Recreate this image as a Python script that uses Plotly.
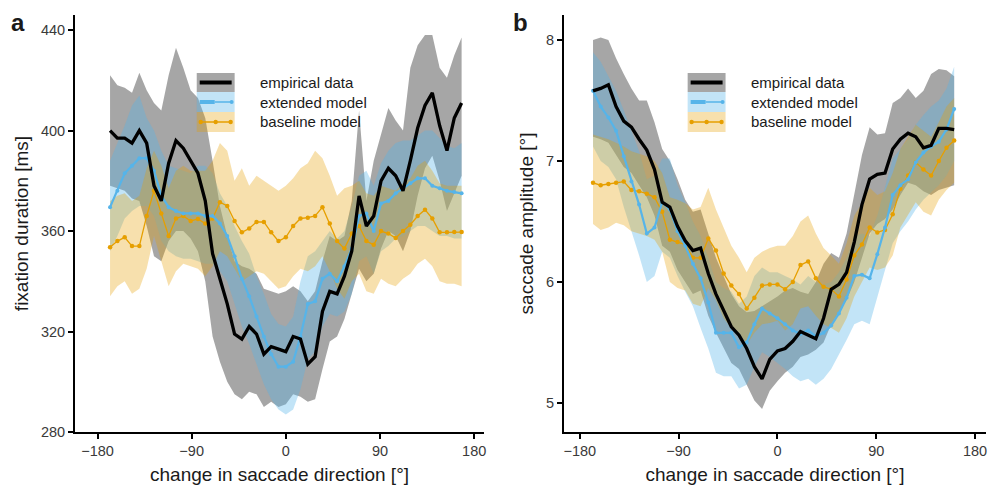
import plotly.graph_objects as go

# ---------------- data: panel a (fixation duration) ----------------
X_A = [-168, -161, -154, -147, -140, -133, -126, -119, -112, -105, -98, -91, -84, -77,
       -70, -63, -56, -49, -42, -35, -28, -21, -14, -7, 0, 7, 14, 21, 28, 35, 42, 49,
       56, 63, 70, 77, 84, 91, 98, 105, 112, 119, 126, 133, 140, 147, 154, 161, 168]

emp_a = [400, 397, 397, 395, 400, 395, 378, 372, 387, 396, 393, 388, 383, 372, 351, 341,
         331, 319, 317, 322, 319, 311, 314, 313, 312, 318, 317, 307, 310, 328, 336, 335,
         342, 352, 374, 362, 366, 380, 385, 382, 376, 388, 401, 410, 415, 402, 392, 405, 411]
emp_a_hi = [422, 418, 417, 415, 423, 416, 411, 408, 422, 433, 425, 416, 413, 405, 388, 370,
            358, 348, 346, 345, 343, 337, 336, 335, 336, 338, 336, 332, 336, 348, 358, 356,
            358, 372, 408, 372, 388, 398, 409, 404, 400, 425, 434, 438, 438, 425, 421, 430, 437]
emp_a_lo = [378, 377, 376, 373, 372, 362, 350, 348, 356, 360, 360, 357, 352, 340, 318, 308,
            300, 295, 293, 296, 295, 290, 292, 290, 291, 295, 294, 292, 293, 305, 316, 318,
            325, 335, 345, 340, 343, 353, 360, 358, 352, 360, 374, 385, 390, 380, 368, 375, 382]

ext_a = [369.5, 376, 383, 386, 389, 389, 384, 374, 369.5, 368, 367, 367, 367, 366, 366, 363,
         358, 350, 341, 334, 326, 318, 311, 306, 306, 308, 318, 331, 332, 341, 343, 340,
         346, 353, 366, 367, 360, 371, 372, 375, 377, 379, 381, 381, 378, 377, 376, 375.5, 375]
ext_a_hi = [388, 395, 402, 410, 414, 405, 400, 392, 386, 385, 384, 383, 386, 386, 383, 375,
            370, 362, 356, 351, 342, 335, 327, 323, 322, 326, 340, 350, 352, 356, 360, 357,
            360, 370, 382, 384, 378, 387, 392, 395, 396, 396, 398, 400, 400, 397, 394, 393, 395]
ext_a_lo = [352, 358, 365, 368, 370, 370, 366, 356, 352, 350, 349, 349, 348, 347, 347, 344,
            340, 331, 322, 315, 307, 299, 293, 289, 287, 289, 297, 309, 312, 322, 327, 326,
            328, 335, 348, 350, 343, 352, 354, 357, 358, 360, 362, 362, 360, 358, 358, 357, 357]

base_a = [353.5, 356, 357.5, 354, 354, 366, 376, 367, 358, 365, 366, 364, 364.8, 363, 365,
          371.5, 370, 364, 359.5, 361, 363.6, 363.6, 359.5, 356, 357.5, 362, 365, 365.3, 366,
          369.5, 363, 356, 353, 359, 362, 356, 354.5, 360, 359, 357.2, 360, 362.5, 366, 368.5,
          365, 359.5, 359.5, 359.6, 359.6]
base_a_hi = [372, 374, 375, 372, 374, 385, 392, 386, 377, 384, 386, 384, 384, 384, 388, 395,
             392, 380, 385, 378, 382, 380, 378, 376, 378, 381, 385, 387, 392, 389, 382, 374,
             377, 378, 380, 375, 374, 378, 377, 376, 379, 381, 386, 388, 384, 379, 378, 378, 378]
base_a_lo = [334, 338, 340, 335, 337, 345, 358, 348, 338, 344, 347, 346, 345, 342, 346, 352,
             350, 345, 340, 342, 344, 343, 340, 337, 338, 342, 345, 344, 346, 350, 344, 337,
             333, 340, 343, 336, 335, 341, 339, 338, 341, 343, 347, 349, 346, 340, 339, 339, 338]

# ---------------- data: panel b (saccade amplitude) ----------------
X_B = [-168, -161, -154, -147, -140, -133, -126, -119, -112, -105, -98, -91, -84, -77,
       -70, -63, -56, -49, -42, -35, -28, -21, -14, -7, 0, 7, 14, 21, 28, 35, 42, 49,
       56, 63, 70, 77, 84, 91, 98, 105, 112, 119, 126, 133, 140, 147, 154, 161]

emp_b = [7.58, 7.60, 7.63, 7.45, 7.33, 7.28, 7.18, 7.09, 6.93, 6.66, 6.62, 6.46, 6.34, 6.26,
         6.28, 6.07, 5.90, 5.76, 5.63, 5.56, 5.45, 5.30, 5.20, 5.36, 5.43, 5.45, 5.51, 5.59,
         5.56, 5.53, 5.70, 5.94, 5.98, 6.08, 6.33, 6.64, 6.85, 6.89, 6.90, 7.10, 7.18, 7.23,
         7.20, 7.11, 7.13, 7.27, 7.27, 7.26]
emp_b_hi = [8.00, 8.02, 8.00, 7.85, 7.72, 7.60, 7.50, 7.50, 7.32, 7.10, 7.00, 6.85, 6.68, 6.58,
            6.60, 6.40, 6.20, 6.05, 5.90, 5.80, 5.75, 5.76, 5.80, 5.84, 5.88, 5.93, 5.95, 5.92,
            5.90, 6.00, 6.15, 6.24, 6.20, 6.40, 6.72, 7.05, 7.28, 7.22, 7.23, 7.48, 7.52, 7.60,
            7.52, 7.58, 7.72, 7.76, 7.75, 7.70]
emp_b_lo = [7.20, 7.18, 7.15, 7.05, 6.95, 6.90, 6.80, 6.70, 6.55, 6.30, 6.25, 6.10, 6.00, 5.90,
            5.93, 5.72, 5.58, 5.45, 5.33, 5.28, 5.15, 5.02, 4.95, 5.10, 5.18, 5.25, 5.30, 5.38,
            5.40, 5.44, 5.50, 5.65, 5.75, 5.85, 6.00, 6.20, 6.40, 6.48, 6.52, 6.60, 6.72, 6.82,
            6.80, 6.75, 6.72, 6.76, 6.78, 6.80]

ext_b = [7.58, 7.45, 7.36, 7.25, 7.04, 6.83, 6.64, 6.40, 6.45, 6.66, 6.60, 6.42, 6.30, 6.15,
         6.03, 5.83, 5.58, 5.58, 5.58, 5.46, 5.50, 5.65, 5.78, 5.74, 5.70, 5.65, 5.60, 5.57,
         5.60, 5.55, 5.58, 5.64, 5.74, 5.87, 6.05, 6.06, 6.03, 6.23, 6.45, 6.72, 6.80, 6.85,
         6.99, 7.07, 7.12, 7.16, 7.26, 7.43]
ext_b_hi = [7.90, 7.82, 7.70, 7.58, 7.42, 7.25, 7.08, 6.85, 6.88, 7.02, 7.02, 6.80, 6.66, 6.50,
            6.38, 6.20, 6.00, 5.95, 5.92, 5.82, 5.88, 6.05, 6.12, 6.08, 6.08, 6.05, 6.02, 5.98,
            6.05, 6.00, 5.98, 6.00, 6.08, 6.20, 6.38, 6.40, 6.38, 6.55, 6.78, 7.02, 7.10, 7.18,
            7.30, 7.38, 7.45, 7.50, 7.60, 7.78]
ext_b_lo = [7.12, 7.00, 6.95, 6.85, 6.62, 6.42, 6.22, 6.00, 6.05, 6.25, 6.20, 6.05, 5.92, 5.80,
            5.62, 5.45, 5.25, 5.22, 5.22, 5.12, 5.15, 5.30, 5.42, 5.38, 5.33, 5.28, 5.22, 5.18,
            5.20, 5.15, 5.20, 5.28, 5.40, 5.52, 5.65, 5.68, 5.65, 5.88, 6.10, 6.32, 6.42, 6.50,
            6.60, 6.68, 6.74, 6.80, 6.88, 7.00]

base_b = [6.82, 6.80, 6.81, 6.82, 6.83, 6.76, 6.75, 6.73, 6.70, 6.58, 6.35, 6.33, 6.31, 6.20,
          6.20, 6.36, 6.26, 6.07, 5.97, 5.90, 5.78, 5.87, 5.97, 5.98, 5.98, 5.94, 6.00, 6.14,
          6.17, 6.03, 5.96, 5.94, 5.88, 6.02, 6.22, 6.31, 6.45, 6.41, 6.43, 6.56, 6.77, 6.88,
          6.99, 6.93, 6.88, 7.00, 7.11, 7.17]
base_b_hi = [7.22, 7.20, 7.18, 7.15, 7.12, 7.08, 7.06, 7.04, 7.00, 6.90, 6.70, 6.68, 6.65, 6.60,
             6.62, 6.78, 6.60, 6.45, 6.30, 6.20, 6.08, 6.20, 6.25, 6.28, 6.30, 6.30, 6.38, 6.50,
             6.55, 6.40, 6.28, 6.22, 6.15, 6.32, 6.55, 6.65, 6.78, 6.72, 6.75, 6.90, 7.10, 7.20,
             7.30, 7.25, 7.20, 7.32, 7.45, 7.52]
base_b_lo = [6.48, 6.43, 6.45, 6.49, 6.47, 6.42, 6.40, 6.38, 6.35, 6.25, 6.00, 5.95, 5.93, 5.82,
             5.80, 5.95, 5.85, 5.70, 5.62, 5.58, 5.48, 5.58, 5.65, 5.66, 5.68, 5.60, 5.65, 5.78,
             5.80, 5.72, 5.65, 5.62, 5.58, 5.70, 5.88, 6.00, 6.12, 6.10, 6.12, 6.22, 6.45, 6.55,
             6.66, 6.58, 6.55, 6.68, 6.76, 6.82]

SERIES = ["empirical data", "extended model", "baseline model"]
Y_TICKS_A = [280, 320, 360, 400, 440]
Y_TICKS_B = [5, 6, 7, 8]
X_TICKS = [-180, -90, 0, 90, 180]

# ---------------- style ----------------
FONT = "Liberation Sans, Arial, Helvetica, sans-serif"
C_EMP, C_EXT, C_BASE = "#000000", "#56B4E9", "#E69F00"
F_EMP, F_EXT, F_BASE = "rgba(0,0,0,0.35)", "rgba(86,180,233,0.36)", "rgba(230,159,0,0.32)"

fig = go.Figure()


def band(x, lo, hi, color, xa, ya):
    fig.add_trace(go.Scatter(
        x=list(x) + list(x)[::-1], y=list(hi) + list(lo)[::-1],
        fill="toself", fillcolor=color, line=dict(width=0), mode="lines",
        hoverinfo="skip", showlegend=False, xaxis=xa, yaxis=ya))


for (xa, ya, X, e, elo, ehi, m, mlo, mhi, b, blo, bhi) in [
        ("x", "y", X_A, emp_a, emp_a_lo, emp_a_hi, ext_a, ext_a_lo, ext_a_hi,
         base_a, base_a_lo, base_a_hi),
        ("x2", "y2", X_B, emp_b, emp_b_lo, emp_b_hi, ext_b, ext_b_lo, ext_b_hi,
         base_b, base_b_lo, base_b_hi)]:
    band(X, elo, ehi, F_EMP, xa, ya)
    band(X, mlo, mhi, F_EXT, xa, ya)
    band(X, blo, bhi, F_BASE, xa, ya)
    fig.add_trace(go.Scatter(x=X, y=b, mode="lines+markers", name=SERIES[2],
                             line=dict(color=C_BASE, width=1.3),
                             marker=dict(color=C_BASE, size=4.5),
                             showlegend=False, xaxis=xa, yaxis=ya))
    fig.add_trace(go.Scatter(x=X, y=m, mode="lines+markers", name=SERIES[1],
                             line=dict(color=C_EXT, width=2.2),
                             marker=dict(color=C_EXT, size=4),
                             showlegend=False, xaxis=xa, yaxis=ya))
    fig.add_trace(go.Scatter(x=X, y=e, mode="lines", name=SERIES[0],
                             line=dict(color=C_EMP, width=3.3),
                             showlegend=False, xaxis=xa, yaxis=ya))

# ---------------- layout ----------------
L, T, R, B = 75, 15, 1, 55
W, H = 989 - L - R, 487 - T - B


def pxx(x):
    return (x - L) / W


def pyy(y):
    return (487 - B - y) / H


axis_common = dict(showgrid=False, zeroline=False, showline=True, linecolor="black",
                   linewidth=2, ticks="outside", ticklen=5, tickwidth=1.5,
                   tickcolor="black", tickfont=dict(size=14.5, color="#3a3a3a", family=FONT),
                   mirror=False)

TITLE_FONT = dict(size=19, family=FONT, color="#1a1a1a")

fig.update_layout(
    width=989, height=487, margin=dict(l=L, r=R, t=T, b=B),
    paper_bgcolor="white", plot_bgcolor="white", showlegend=False,
    font=dict(family=FONT, color="black"),
    xaxis=dict(domain=[0, pxx(485)], range=[-201.5, 189.5], tickvals=X_TICKS,
               anchor="y", title=dict(text="change in saccade direction [°]",
                                      font=TITLE_FONT, standoff=9), **axis_common),
    yaxis=dict(domain=[0, 1], range=[280, 446], tickvals=Y_TICKS_A, anchor="x",
               title=dict(text="fixation duration [ms]", font=TITLE_FONT, standoff=7),
               **axis_common),
    xaxis2=dict(domain=[pxx(565), 1], range=[-194.5, 190], tickvals=X_TICKS,
                anchor="y2", title=dict(text="change in saccade direction [°]",
                                        font=TITLE_FONT, standoff=9), **axis_common),
    yaxis2=dict(domain=[0, 1], range=[4.76, 8.207], tickvals=Y_TICKS_B, anchor="x2",
                title=dict(text="saccade amplitude [°]", font=TITLE_FONT, standoff=7),
                **axis_common),
)

# panel letters
for txt, x in [("a", 18), ("b", 521)]:
    fig.add_annotation(text="<b>" + txt + "</b>", x=pxx(x), y=pyy(22), xref="paper",
                       yref="paper", showarrow=False,
                       font=dict(size=24, family=FONT, color="#1a1a1a"),
                       xanchor="center", yanchor="middle")

# hand-drawn legends
shapes = []
for ox in (197, 689):
    x0, x1 = ox, ox + 38
    rows = [(73, 92, F_EMP), (92, 112, F_EXT), (112, 132, F_BASE)]
    for (y0, y1, fc) in rows:
        shapes.append(dict(type="rect", xref="paper", yref="paper", x0=pxx(x0), x1=pxx(x1),
                           y0=pyy(y1), y1=pyy(y0), fillcolor=fc, line=dict(width=0),
                           layer="above"))
    shapes.append(dict(type="line", xref="paper", yref="paper", x0=pxx(x0 + 3),
                       x1=pxx(x1 - 3), y0=pyy(82.5), y1=pyy(82.5),
                       line=dict(color=C_EMP, width=4), layer="above"))
    shapes.append(dict(type="line", xref="paper", yref="paper", x0=pxx(x0 + 3),
                       x1=pxx(x0 + 18), y0=pyy(102), y1=pyy(102),
                       line=dict(color=C_EXT, width=4), layer="above"))
    shapes.append(dict(type="line", xref="paper", yref="paper", x0=pxx(x0 + 18),
                       x1=pxx(x1 - 3), y0=pyy(102), y1=pyy(102),
                       line=dict(color=C_EXT, width=1.5), layer="above"))
    shapes.append(dict(type="circle", xref="paper", yref="paper", x0=pxx(x1 - 5),
                       x1=pxx(x1 - 1), y0=pyy(104), y1=pyy(100), fillcolor=C_EXT,
                       line=dict(width=0), layer="above"))
    shapes.append(dict(type="line", xref="paper", yref="paper", x0=pxx(x0 + 3),
                       x1=pxx(x1 - 3), y0=pyy(122), y1=pyy(122),
                       line=dict(color=C_BASE, width=1.3), layer="above"))
    for cx in (x0 + 4, x0 + 19, x1 - 4):
        shapes.append(dict(type="circle", xref="paper", yref="paper", x0=pxx(cx - 2.2),
                           x1=pxx(cx + 2.2), y0=pyy(124.2), y1=pyy(119.8),
                           fillcolor=C_BASE, line=dict(width=0), layer="above"))
    for txt, yy in zip(SERIES, (82.5, 102, 122)):
        fig.add_annotation(text=txt, x=pxx(ox + 61), y=pyy(yy), xref="paper", yref="paper",
                           showarrow=False, xanchor="left", yanchor="middle",
                           font=dict(size=15, family=FONT, color="#1a1a1a"))

fig.update_layout(shapes=shapes)
fig.write_html("out.html")
